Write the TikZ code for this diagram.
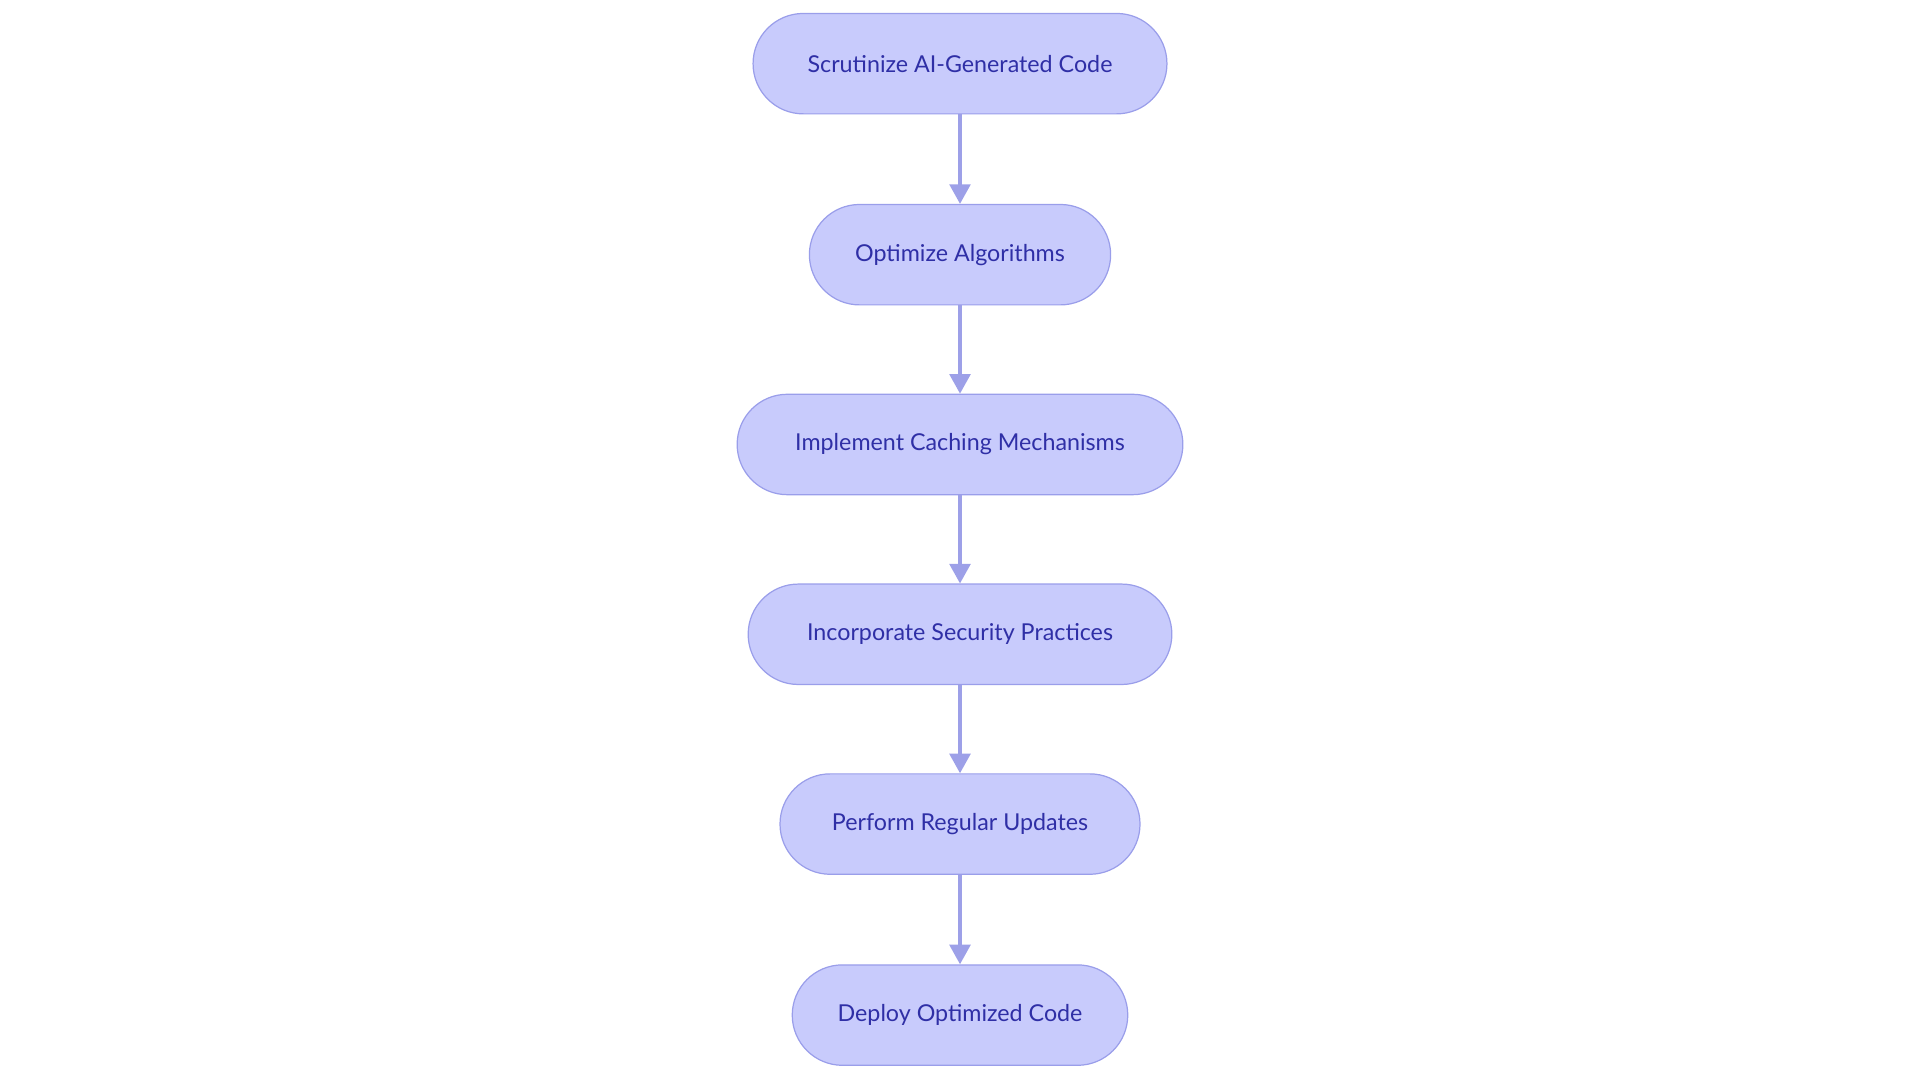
\documentclass[tikz,border=0pt]{standalone}
\usepackage{fontspec}
\setmainfont{Lato}
\usetikzlibrary{arrows.meta}
\definecolor{nfill}{HTML}{C8CBFC}
\definecolor{ndraw}{HTML}{9A9EEA}
\definecolor{ntext}{HTML}{2F2FA6}
\definecolor{aline}{HTML}{9DA0E8}
\begin{document}
\begin{tikzpicture}[x=1pt,y=1pt,
  flowstep/.style={draw=ndraw,line width=1pt,fill=nfill,rounded corners=41pt,minimum height=82pt,inner sep=0pt,text=ntext,font=\fontsize{19}{22}\selectfont},
  arr/.style={draw=aline,line width=2.6pt,-{Triangle[length=16pt,width=17pt]}}]
\useasboundingbox (0,0) rectangle (1568,880);
\node[flowstep,minimum width=338pt] (a) at (784,828) {Scrutinize AI-Generated Code};
\node[flowstep,minimum width=246pt] (b) at (784,672) {Optimize Algorithms};
\node[flowstep,minimum width=364pt] (c) at (784,517) {Implement Caching Mechanisms};
\node[flowstep,minimum width=346pt] (d) at (784,362) {Incorporate Security Practices};
\node[flowstep,minimum width=294pt] (e) at (784,207) {Perform Regular Updates};
\node[flowstep,minimum width=274pt] (f) at (784,51) {Deploy Optimized Code};
\draw[arr] (a) -- (b);
\draw[arr] (b) -- (c);
\draw[arr] (c) -- (d);
\draw[arr] (d) -- (e);
\draw[arr] (e) -- (f);
\end{tikzpicture}
\end{document}
